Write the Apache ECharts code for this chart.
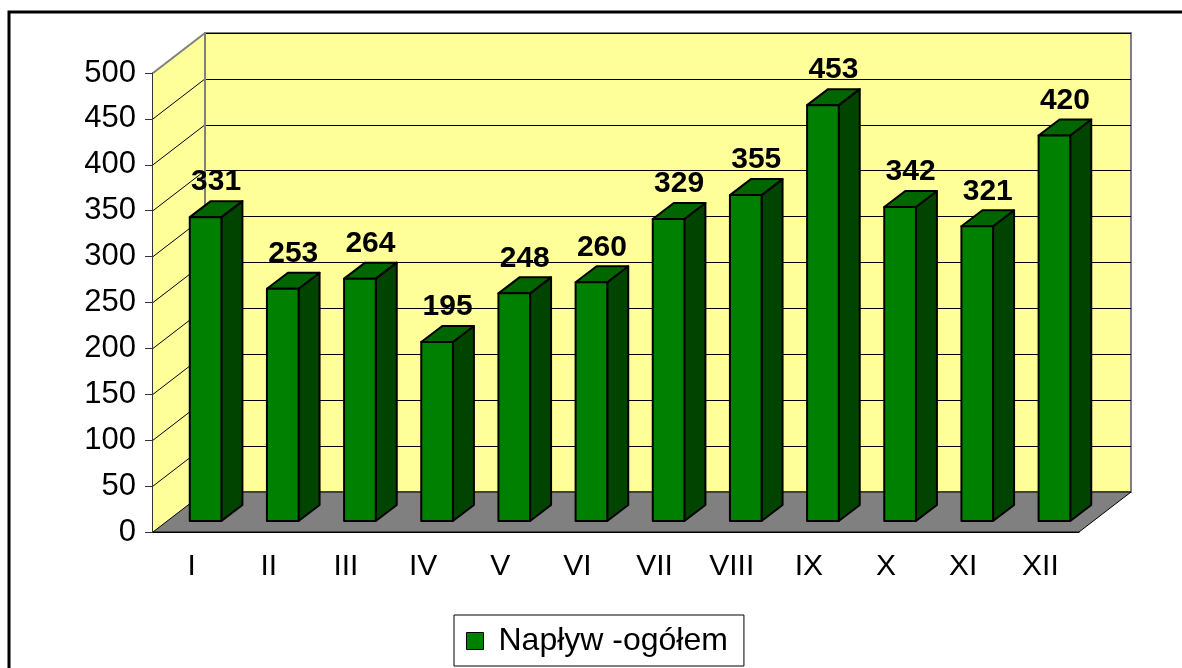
<!DOCTYPE html>
<html>
<head>
<meta charset="utf-8">
<script src="https://cdn.jsdelivr.net/npm/echarts@6/dist/echarts.min.js"></script>
<style>
  html, body { margin: 0; padding: 0; background: #fff; }
  #container { width: 1182px; height: 668px; }
</style>
</head>
<body>
<div id="container"></div>
<script>
var dom = document.getElementById("container");
var myChart = echarts.init(dom, null, {renderer: 'canvas'});

var months = ['I', 'II', 'III', 'IV', 'V', 'VI', 'VII', 'VIII', 'IX', 'X', 'XI', 'XII'];
var naplyw = [331, 253, 264, 195, 248, 260, 329, 355, 453, 342, 321, 420];
var yTicks = [0, 50, 100, 150, 200, 250, 300, 350, 400, 450, 500];
var seriesName = 'Napływ -ogółem';

var FONT = "'Liberation Sans', Arial, sans-serif";
// depth of the whole plot box and of one bar (pixels)
var WALL = [52, -40];
var BAR_SHIFT = [14, -11];
var BAR_DEPTH = [21, -16];

function renderWalls(params, api) {
    var cs = params.coordSys;
    var x0 = cs.x, y0 = cs.y, w = cs.width, h = cs.height;
    var dx = WALL[0], dy = WALL[1];
    var children = [];
    // left side wall
    children.push({
        type: 'polygon',
        shape: {points: [[x0, y0], [x0 + dx, y0 + dy], [x0 + dx, y0 + h + dy], [x0, y0 + h]]},
        style: {fill: '#FFFF99', stroke: null}
    });
    // floor
    children.push({
        type: 'polygon',
        shape: {points: [[x0, y0 + h], [x0 + dx, y0 + h + dy], [x0 + w + dx, y0 + h + dy], [x0 + w, y0 + h]]},
        style: {fill: '#808080', stroke: '#000', lineWidth: 1}
    });
    // diagonal grid lines on the side wall
    yTicks.forEach(function (t) {
        if (t === 0) return;
        var p = api.coord([0, t]);
        children.push({
            type: 'line',
            shape: {x1: x0, y1: p[1], x2: x0 + dx, y2: p[1] + dy},
            style: {stroke: t === 500 ? '#808080' : '#000', lineWidth: t === 500 ? 2 : 1}
        });
    });
    // back wall left edge
    children.push({
        type: 'line',
        shape: {x1: x0 + dx, y1: y0 + dy, x2: x0 + dx, y2: y0 + h + dy},
        style: {stroke: '#808080', lineWidth: 2}
    });
    return {type: 'group', children: children};
}

function renderBar(params, api) {
    var idx = api.value(0);
    var top = api.coord([idx, api.value(1)]);
    var base = api.coord([idx, 0]);
    var bw = api.size([1, 0])[0] * 0.41;
    var x = top[0] - bw / 2 + BAR_SHIFT[0];
    var yt = top[1] + BAR_SHIFT[1];
    var yb = base[1] + BAR_SHIFT[1];
    var dx = BAR_DEPTH[0], dy = BAR_DEPTH[1];
    var line = {stroke: '#000', lineWidth: 2, lineJoin: 'round'};
    return {
        type: 'group',
        children: [
            {type: 'polygon', shape: {points: [[x + bw, yt], [x + bw + dx, yt + dy], [x + bw + dx, yb + dy], [x + bw, yb]]},
             style: Object.assign({fill: '#004400'}, line)},
            {type: 'polygon', shape: {points: [[x, yt], [x + dx, yt + dy], [x + bw + dx, yt + dy], [x + bw, yt]]},
             style: Object.assign({fill: '#006600'}, line)},
            {type: 'rect', shape: {x: x, y: yt, width: bw, height: yb - yt},
             style: Object.assign({fill: '#008000'}, line)},
            {type: 'text', x: x + (bw + dx) / 2, y: yt + dy - 4,
             style: {text: String(api.value(1)), fill: '#000', font: 'bold 30px ' + FONT,
                     textAlign: 'center', textVerticalAlign: 'bottom'}}
        ]
    };
}

var option = {
    backgroundColor: '#fff',
    animation: false,
    textStyle: {fontFamily: FONT},
    graphic: [{
        type: 'rect', shape: {x: 9, y: 12, width: 1200, height: 700},
        style: {fill: null, stroke: '#000', lineWidth: 3}, z: -10
    }],
    legend: {
        data: [seriesName],
        left: 454, top: 615,
        backgroundColor: '#fff',
        borderColor: '#000', borderWidth: 1,
        padding: [10, 16, 9, 12],
        icon: 'rect', itemWidth: 17, itemHeight: 17, itemGap: 8,
        itemStyle: {color: '#008000', borderColor: '#000', borderWidth: 1},
        textStyle: {fontSize: 32, color: '#000', fontFamily: FONT, padding: [0, 0, 0, 10]}
    },
    grid: [
        {left: 153, top: 73, width: 926, height: 459},
        {left: 205, top: 33, width: 926, height: 459, show: true,
         backgroundColor: '#FFFF99', borderColor: '#808080', borderWidth: 2}
    ],
    xAxis: [
        {type: 'category', gridIndex: 0, data: months,
         axisLine: {lineStyle: {color: '#000', width: 1}},
         axisTick: {length: 8, lineStyle: {color: '#000'}},
         axisLabel: {fontSize: 30, color: '#000', margin: 20, fontFamily: FONT}},
        {type: 'category', gridIndex: 1, data: months, show: false}
    ],
    yAxis: [
        {type: 'value', gridIndex: 0, min: 0, max: 500, interval: 50,
         axisLine: {show: true, lineStyle: {color: '#333', width: 2}},
         axisTick: {show: true, length: 8, lineStyle: {color: '#333'}},
         splitLine: {show: false},
         axisLabel: {fontSize: 31, color: '#000', margin: 17, fontFamily: FONT}},
        {type: 'value', gridIndex: 1, min: 0, max: 500, interval: 50,
         axisLine: {show: false}, axisTick: {show: false}, axisLabel: {show: false},
         splitLine: {show: true, lineStyle: {color: '#000', width: 1}}}
    ],
    series: [
        {type: 'custom', name: 'walls', xAxisIndex: 0, yAxisIndex: 0, z: 1,
         renderItem: renderWalls, data: [[0, 0]], silent: true},
        {type: 'custom', name: seriesName, xAxisIndex: 0, yAxisIndex: 0, z: 3,
         itemStyle: {color: '#008000', borderColor: '#000'},
         renderItem: renderBar,
         data: naplyw.map(function (v, i) { return [i, v]; })}
    ]
};

myChart.setOption(option);
</script>
</body>
</html>
